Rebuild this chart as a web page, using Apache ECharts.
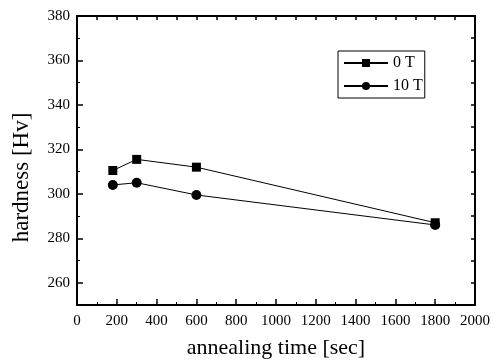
<!DOCTYPE html>
<html>
<head>
<meta charset="utf-8">
<script src="https://cdn.jsdelivr.net/npm/echarts@6/dist/echarts.min.js"></script>
<style>
  html, body { margin: 0; padding: 0; background: #fff; }
  #main { width: 493px; height: 364px; }
</style>
</head>
<body>
<div id="main"></div>
<script>
// annealing time (sec)
const times = [180, 300, 600, 1800];
// hardness values (Hv)
const hard0T = [310.5, 315.5, 312, 287];
const hard10T = [304, 305, 299.5, 286];
const seriesNames = ['0 T', '10 T'];
// y tick labels, and minor y ticks in between
const yLabels = [260, 280, 300, 320, 340, 360, 380];
const yMinor = [250, 270, 290, 310, 330, 350, 370];

const font = 'Liberation Serif, Times New Roman, serif';

function pairs(xs, ys) {
  return xs.map((x, i) => [x, ys[i]]);
}

const lineBlack = { color: '#000', width: 2 };

let option = {
  animation: false,
  backgroundColor: '#fff',
  grid: { left: 77, right: 13, top: 16, bottom: 56 },
  legend: {
    left: 338,
    top: 51,
    orient: 'vertical',
    itemWidth: 44,
    itemHeight: 10,
    itemGap: 7,
    padding: [4, 2, 4, 5],
    borderColor: '#000',
    borderWidth: 1,
    textStyle: { fontFamily: font, fontSize: 16, color: '#000' },
    data: seriesNames
  },
  xAxis: [
    {
      type: 'value', min: 0, max: 2000, interval: 200,
      name: 'annealing time [sec]', nameLocation: 'middle', nameGap: 32,
      nameTextStyle: { fontFamily: font, fontSize: 22, color: '#000' },
      axisLine: { onZero: false, lineStyle: lineBlack },
      axisTick: { inside: true, length: 6, lineStyle: { color: '#000', width: 1.5 } },
      minorTick: { show: true, splitNumber: 2, length: 3, lineStyle: { color: '#000', width: 1 } },
      splitLine: { show: false },
      axisLabel: { fontFamily: font, fontSize: 15, color: '#000', margin: 9, formatter: v => String(v) }
    },
    {
      type: 'value', min: 0, max: 2000, interval: 100, position: 'top',
      axisLine: { onZero: false, lineStyle: lineBlack },
      axisTick: { inside: true, length: 4, lineStyle: { color: '#000', width: 1.5 } },
      splitLine: { show: false },
      axisLabel: { show: false }
    }
  ],
  yAxis: [
    {
      type: 'value', min: 250, max: 380, interval: 10,
      name: 'hardness [Hv]', nameLocation: 'middle', nameGap: 44,
      nameTextStyle: { fontFamily: font, fontSize: 23, color: '#000', padding: [0, 0, 0, -34] },
      axisLine: { onZero: false, lineStyle: lineBlack },
      axisTick: { inside: true, length: 6, customValues: yLabels, lineStyle: { color: '#000', width: 1.5 } },
      splitLine: { show: false },
      axisLabel: { fontFamily: font, fontSize: 15, color: '#000', margin: 7, customValues: yLabels }
    },
    {
      type: 'value', min: 250, max: 380, interval: 10, position: 'left',
      axisLine: { show: false },
      axisTick: { inside: true, length: 3, customValues: yMinor, lineStyle: { color: '#000', width: 1 } },
      splitLine: { show: false },
      axisLabel: { show: false }
    },
    {
      type: 'value', min: 250, max: 380, interval: 10, position: 'right',
      axisLine: { onZero: false, lineStyle: lineBlack },
      axisTick: { inside: true, length: 4, lineStyle: { color: '#000', width: 1.5 } },
      splitLine: { show: false },
      axisLabel: { show: false }
    }
  ],
  series: [
    {
      name: seriesNames[0],
      type: 'line',
      data: pairs(times, hard0T),
      symbol: 'rect',
      symbolSize: 9,
      itemStyle: { color: '#000' },
      lineStyle: { color: '#000', width: 1 }
    },
    {
      name: seriesNames[1],
      type: 'line',
      data: pairs(times, hard10T),
      symbol: 'circle',
      symbolSize: 10,
      itemStyle: { color: '#000' },
      lineStyle: { color: '#000', width: 1 }
    }
  ]
};

let myChart = echarts.init(document.getElementById('main'));
myChart.setOption(option);
</script>
</body>
</html>
